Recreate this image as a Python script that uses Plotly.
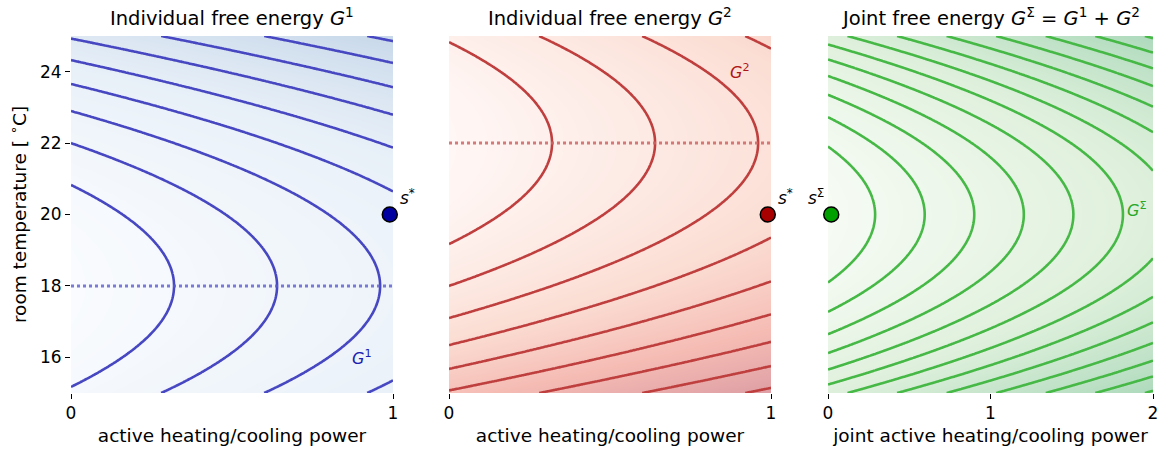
import numpy as np
import plotly.graph_objects as go

# ---- data / model parameters ----
temp_range = [15, 25]
power_range_ind = [0, 1]
power_range_joint = [0, 2]
preferred_temp = [18, 22]          # agent 1, agent 2
comfort_weight = [0.04, 0.04]      # quadratic weight on temperature deviation
levels_ind = [0.32, 2.9, 0.32]     # start, end, step of contour levels
levels_joint = [0.29, 4.0, 0.305]
s_star_power = [0.99, 0.99]
s_star_temp = [20, 20]
s_joint_power = [0.02]
s_joint_temp = [20]
y_tickvals = [16, 18, 20, 22, 24]

FONT = "DejaVu Sans"
W, H = 1158, 455

def G(power, temp, pref, w):
    P, T = np.meshgrid(power, temp)
    return P + w * (T - pref) ** 2

temps = np.linspace(temp_range[0], temp_range[1], 301)
p_ind = np.linspace(power_range_ind[0], power_range_ind[1], 201)
p_joint = np.linspace(power_range_joint[0], power_range_joint[1], 401)

Z1 = G(p_ind, temps, preferred_temp[0], comfort_weight[0])
Z2 = G(p_ind, temps, preferred_temp[1], comfort_weight[1])
PJ, TJ = np.meshgrid(p_joint, temps)
ZJ = PJ + comfort_weight[0] * (TJ - preferred_temp[0]) ** 2 + comfort_weight[1] * (TJ - preferred_temp[1]) ** 2
ZJ = ZJ - ZJ.min()

panels = [
    dict(z=Z1, x=p_ind, line="#4747c2", dot="rgba(90,90,205,0.8)", marker="#0000a0",
         scale=[[0, "rgb(249,251,254)"], [0.5, "rgb(232,240,248)"], [1, "rgb(200,216,234)"]],
         levels=levels_ind),
    dict(z=Z2, x=p_ind, line="#bf3f3f", dot="rgba(205,100,100,0.85)", marker="#a80000",
         scale=[[0, "rgb(255,247,245)"], [0.4, "rgb(251,222,212)"], [0.7, "rgb(245,188,180)"], [1, "rgb(222,158,164)"]],
         levels=levels_ind),
    dict(z=ZJ, x=p_joint, line="#46b846", dot=None, marker="#00a000",
         scale=[[0, "rgb(246,251,244)"], [0.5, "rgb(222,240,219)"], [1, "rgb(174,218,188)"]],
         levels=levels_joint),
]

doms = [(71 / W, 393 / W), (449 / W, 771 / W), (828 / W, 1153 / W)]
ydom = (1 - 393 / H, 1 - 36 / H)

fig = go.Figure()
for i, p in enumerate(panels):
    xa = "x" if i == 0 else f"x{i+1}"
    ya = "y" if i == 0 else f"y{i+1}"
    fig.add_trace(go.Heatmap(z=p["z"], x=p["x"], y=temps, colorscale=p["scale"],
                             zsmooth="best", showscale=False, hoverinfo="skip",
                             xaxis=xa, yaxis=ya))
    s, e, d = p["levels"]
    fig.add_trace(go.Contour(z=p["z"], x=p["x"], y=temps, showscale=False,
                             contours=dict(coloring="lines", start=s, end=e, size=d),
                             colorscale=[[0, p["line"]], [1, p["line"]]],
                             line=dict(width=2.6), hoverinfo="skip",
                             xaxis=xa, yaxis=ya))

# dotted preferred-temperature lines
for i in range(2):
    xa = "x" if i == 0 else f"x{i+1}"
    ya = "y" if i == 0 else f"y{i+1}"
    fig.add_trace(go.Scatter(x=power_range_ind, y=[preferred_temp[i]] * 2, mode="lines",
                             line=dict(color=panels[i]["dot"], width=3, dash="dot"),
                             xaxis=xa, yaxis=ya, showlegend=False, hoverinfo="skip"))
    fig.add_trace(go.Scatter(x=[s_star_power[i]], y=[s_star_temp[i]], mode="markers",
                             marker=dict(size=15, color=panels[i]["marker"], line=dict(color="black", width=1.5)),
                             cliponaxis=False, xaxis=xa, yaxis=ya, showlegend=False))
fig.add_trace(go.Scatter(x=s_joint_power, y=s_joint_temp, mode="markers",
                         marker=dict(size=15, color=panels[2]["marker"], line=dict(color="black", width=1.5)),
                         cliponaxis=False, xaxis="x3", yaxis="y3", showlegend=False))

tickfont = dict(family=FONT, size=17, color="black")
titlefont = dict(family=FONT, size=18.5, color="black")
xtitles = ["active heating/cooling power", "active heating/cooling power", "joint active heating/cooling power"]
xranges = [power_range_ind, power_range_ind, power_range_joint]
xticks = [[0, 1], [0, 1], [0, 1, 2]]
layout = dict(width=W, height=H, margin=dict(l=0, r=0, t=0, b=0, autoexpand=False),
              plot_bgcolor="white", paper_bgcolor="white", showlegend=False)
for i in range(3):
    k = "" if i == 0 else str(i + 1)
    layout["xaxis" + k] = dict(domain=doms[i], range=xranges[i], tickvals=xticks[i],
                              ticks="outside", ticklen=5, tickwidth=1.3, tickcolor="black",
                              showgrid=False, zeroline=False, showline=False, automargin=False,
                              ticklabeloverflow="allow",
                              tickfont=tickfont, anchor="y" + k,
                              title=dict(text=xtitles[i], font=titlefont, standoff=6))
    layout["yaxis" + k] = dict(domain=ydom, range=temp_range, tickvals=y_tickvals if i == 0 else [],
                              ticks="outside" if i == 0 else "", ticklen=5, tickwidth=1.3, tickcolor="black",
                              showgrid=False, zeroline=False, showline=False, automargin=False,
                              showticklabels=(i == 0), tickfont=tickfont, anchor="x" + k,
                              title=dict(text="room temperature [ <sup>∘</sup>C]" if i == 0 else "",
                                         font=titlefont, standoff=8))
fig.update_layout(**layout)

titles = ["Individual free energy <i>G</i><sup>1</sup>",
          "Individual free energy <i>G</i><sup>2</sup>",
          "Joint free energy <i>G</i><sup>Σ</sup> = <i>G</i><sup>1</sup> + <i>G</i><sup>2</sup>"]
for i, t in enumerate(titles):
    fig.add_annotation(text=t, xref="paper", yref="paper", x=(doms[i][0] + doms[i][1]) / 2,
                       y=1 - 17 / H, xanchor="center", yanchor="middle", showarrow=False,
                       font=dict(family=FONT, size=19.5, color="black"))

lab = dict(family=FONT, size=17)
fig.add_annotation(text="<i>s</i><sup>*</sup>", x=1.045, y=20.5, xref="x domain", yref="y", showarrow=False,
                   xanchor="center", font=dict(lab, color="black"))
fig.add_annotation(text="<i>s</i><sup>*</sup>", x=1.045, y=20.5, xref="x2 domain", yref="y2", showarrow=False,
                   xanchor="center", font=dict(lab, color="black"))
fig.add_annotation(text="<i>s</i><sup>Σ</sup>", x=-0.037, y=20.5, xref="x3 domain", yref="y3", showarrow=False,
                   xanchor="center", font=dict(lab, color="black"))
fig.add_annotation(text="<i>G</i><sup>1</sup>", x=0.905, y=16.0, xref="x", yref="y", showarrow=False,
                   xanchor="center", font=dict(family=FONT, size=16, color="#2020b0"))
fig.add_annotation(text="<i>G</i><sup>2</sup>", x=0.905, y=24.0, xref="x2", yref="y2", showarrow=False,
                   xanchor="center", font=dict(family=FONT, size=16, color="#b01515"))
fig.add_annotation(text="<i>G</i><sup>Σ</sup>", x=1.9, y=20.15, xref="x3", yref="y3", showarrow=False,
                   xanchor="center", font=dict(family=FONT, size=16, color="#2aa82a"))

fig.write_html("out.html", config={"displayModeBar": False},
               post_script="document.body.style.margin='0';")
